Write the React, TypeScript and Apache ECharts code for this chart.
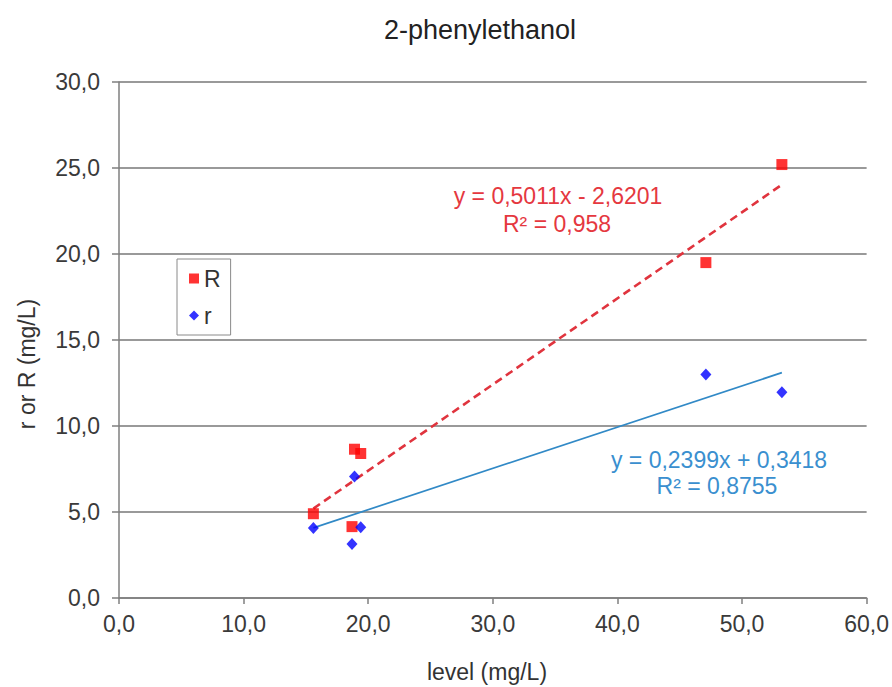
import React, { useEffect, useRef } from "react";
import * as echarts from "echarts";

// ---- data ----
const chartTitle = "2-phenylethanol";
const xAxisName = "level (mg/L)";
const yAxisName = "r or R (mg/L)";

const seriesNames = ["R", "r"];
const levelR = [15.6, 18.9, 19.4, 18.7, 47.1, 53.2];
const valuesR = [4.9, 8.65, 8.4, 4.15, 19.5, 25.2];
const levelr = [15.6, 18.9, 19.4, 18.7, 47.1, 53.2];
const valuesr = [4.07, 7.06, 4.12, 3.14, 13.0, 11.96];

// linear trend lines (end points, from the fitted equations shown)
const trendX = [15.6, 53.2];
const trendRY = [5.2, 24.03];
const trendrY = [4.08, 13.1];

const eqR = ["y = 0,5011x - 2,6201", "R² = 0,958"];
const eqr = ["y = 0,2399x + 0,3418", "R² = 0,8755"];

const xMin = 0, xMax = 60, xStep = 10;
const yMin = 0, yMax = 30, yStep = 5;

const FONT = "'Liberation Sans', Arial, sans-serif";
const RED = "#ff0000";
const BLUE = "#0000ff";
const RED_TREND = "#e0343e";
const BLUE_TREND = "#3189c6";
const RED_TEXT = "#e5383f";
const BLUE_TEXT = "#3a8fcf";

const fmt = (v: number) => v.toFixed(1).replace(".", ",");

export default function App() {
  const ref = useRef<HTMLDivElement>(null);
  useEffect(() => {
    if (!ref.current) return;
    const chart = echarts.init(ref.current, undefined, { renderer: "svg" });
    const txt = (text: string, x: number, y: number, size: number, color: string, extra: any = {}) => ({
      type: "text",
      x,
      y,
      ...extra,
      style: {
        text,
        fontSize: size,
        fontFamily: FONT,
        fill: color,
        align: "center",
        verticalAlign: "middle",
        textAlign: "center",
        textVerticalAlign: "middle",
      },
    });
    chart.setOption({
      animation: false,
      backgroundColor: "#ffffff",
      title: {
        text: chartTitle,
        left: 480,
        top: 16,
        textAlign: "center",
        padding: 0,
        textStyle: { fontSize: 27, fontWeight: "normal", color: "#222", fontFamily: FONT },
      },
      grid: { left: 119, right: 25, top: 82, bottom: 89 },
      legend: {
        data: [
          { name: seriesNames[0], icon: "rect" },
          { name: seriesNames[1], icon: "diamond" },
        ],
        orient: "vertical",
        left: 177,
        top: 259,
        padding: [8, 10, 8, 12],
        itemGap: 14,
        itemWidth: 10,
        itemHeight: 10,
        borderColor: "#8a8a8a",
        borderWidth: 1,
        borderRadius: 0,
        textStyle: { fontSize: 23, color: "#333", fontFamily: FONT },
      },
      xAxis: {
        type: "value",
        min: xMin,
        max: xMax,
        interval: xStep,
        axisLine: { show: true, lineStyle: { color: "#7f7f7f", width: 1.5 } },
        axisTick: { show: true, length: 6, lineStyle: { color: "#7f7f7f", width: 1.5 } },
        splitLine: { show: false },
        axisLabel: { formatter: fmt, fontSize: 23, color: "#3a3a3a", fontFamily: FONT, margin: 14 },
      },
      yAxis: {
        type: "value",
        min: yMin,
        max: yMax,
        interval: yStep,
        axisLine: { show: true, lineStyle: { color: "#7f7f7f", width: 1.5 } },
        axisTick: { show: true, length: 7, lineStyle: { color: "#7f7f7f", width: 1.5 } },
        splitLine: { show: true, lineStyle: { color: "#999999", width: 2 } },
        axisLabel: { formatter: fmt, fontSize: 23, color: "#3a3a3a", fontFamily: FONT, margin: 19 },
      },
      series: [
        {
          name: "R trend",
          type: "line",
          data: trendX.map((x, i) => [x, trendRY[i]]),
          symbol: "none",
          silent: true,
          lineStyle: { color: RED_TREND, width: 2.6, type: [8, 5] },
          z: 1,
        },
        {
          name: "r trend",
          type: "line",
          data: trendX.map((x, i) => [x, trendrY[i]]),
          symbol: "none",
          silent: true,
          lineStyle: { color: BLUE_TREND, width: 1.7 },
          z: 1,
        },
        {
          name: seriesNames[0],
          type: "scatter",
          data: levelR.map((x, i) => [x, valuesR[i]]),
          symbol: "rect",
          symbolSize: 11,
          itemStyle: { color: RED },
          z: 3,
        },
        {
          name: seriesNames[1],
          type: "scatter",
          data: levelr.map((x, i) => [x, valuesr[i]]),
          symbol: "diamond",
          symbolSize: [11, 12],
          itemStyle: { color: BLUE },
          z: 4,
        },
      ],
      graphic: [
        txt(xAxisName, 487, 672, 23, "#333"),
        txt(yAxisName, 27, 364, 23, "#333", { rotation: Math.PI / 2 }),
        txt(eqR[0], 558, 196, 23, RED_TEXT),
        txt(eqR[1], 557, 224, 23, RED_TEXT),
        txt(eqr[0], 719, 460, 23, BLUE_TEXT),
        txt(eqr[1], 717, 486, 23, BLUE_TEXT),
      ],
    });
    return () => chart.dispose();
  }, []);
  return (
    <div
      ref={ref}
      style={{ position: "absolute", left: 0, top: 0, width: 892, height: 687, background: "#fff" }}
    />
  );
}
